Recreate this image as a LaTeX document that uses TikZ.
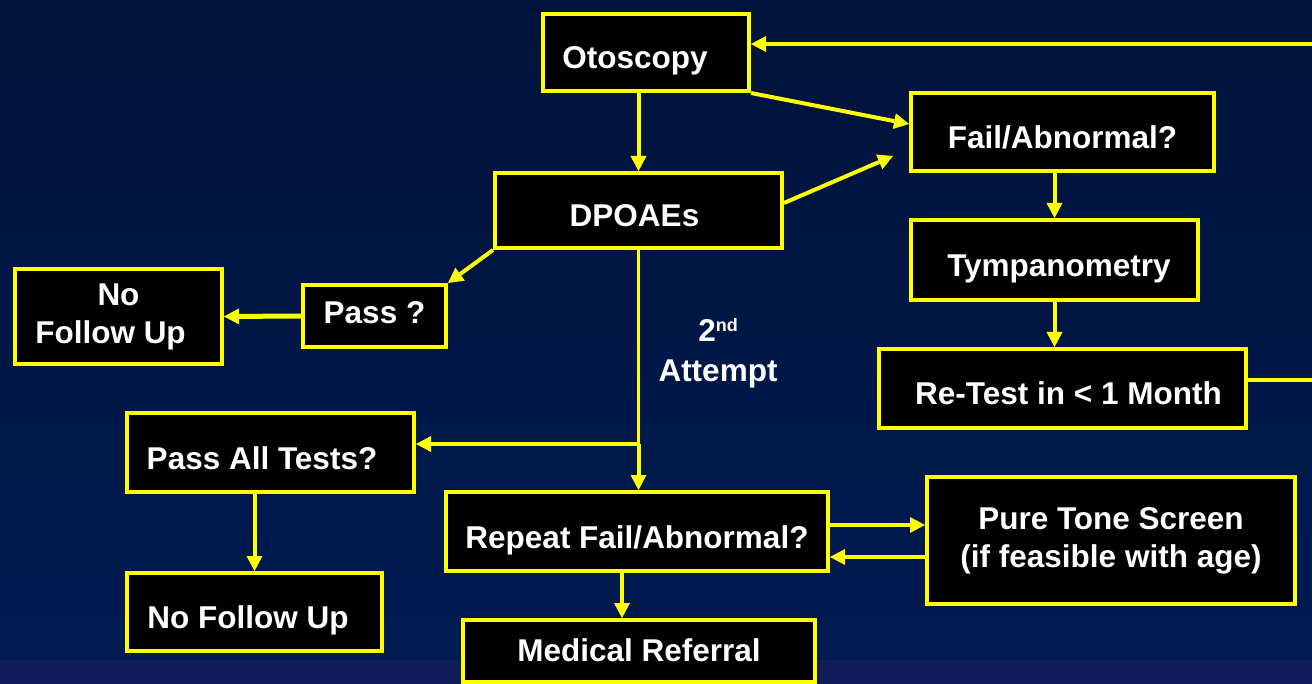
\documentclass[tikz,border=0pt]{standalone}
\usepackage{fontspec}
\setmainfont{Liberation Sans}
\usetikzlibrary{arrows.meta,calc}
\definecolor{bgtop}{HTML}{00133A}
\definecolor{bgbot}{HTML}{001B52}
\definecolor{bgband}{HTML}{0F1D5A}
\definecolor{ylw}{HTML}{FFFF00}
\begin{document}
\begin{tikzpicture}[x=1pt,y=-1pt,
  boxbase/.style={draw=ylw, line width=4pt, fill=black, text=white,
    font=\fontsize{31.5}{38}\selectfont\bfseries, inner sep=0pt, align=center},
  box/.style={boxbase, text height=33pt, text depth=0pt},
  tip/.style={-{Triangle[length=15pt,width=16pt,line width=0pt]}},
  conn/.style={draw=ylw, line width=4pt, tip},
  thinline/.style={draw=ylw, line width=3.6pt},
  lbl/.style={text=white, font=\fontsize{31.5}{40}\selectfont\bfseries, inner sep=0pt, align=center}
]
\useasboundingbox (0,0) rectangle (1312,684);
\fill[top color=bgtop, bottom color=bgbot] (0,0) rectangle (1312,660);
\fill[bgband] (0,660) rectangle (1312,684);
\clip (0,0) rectangle (1312,684);

% boxes
\node[box, minimum width=206pt, minimum height=77pt] (oto) at (646,52.5) {Otoscopy\hspace*{22pt}};
\node[box, minimum width=287pt, minimum height=75pt] (dpo) at (638.5,210.5) {DPOAEs\hspace*{8pt}};
\node[box, minimum width=303pt, minimum height=78pt] (fail) at (1062.5,132) {Fail/Abnormal?};
\node[box, minimum width=287pt, minimum height=80pt] (tymp) at (1054.5,260) {\hspace*{9pt}Tympanometry};
\node[box, minimum width=367pt, minimum height=79pt] (rt) at (1062.5,388.5) {\hspace*{12pt}Re-Test in < 1 Month};
\node[box, minimum width=143pt, minimum height=62pt, text height=22pt, text depth=6pt] (pass) at (374.5,316) {Pass ?};
\node[boxbase, minimum width=207pt, minimum height=95pt] (nf1) at (118.5,316.5) {No\\Follow Up\hspace*{16pt}};
\node[box, minimum width=287pt, minimum height=79pt] (pall) at (270.5,452.5) {Pass All Tests?\hspace*{17pt}};
\node[box, minimum width=255pt, minimum height=78pt] (nf2) at (254.5,612) {No Follow Up\hspace*{13pt}};
\node[box, minimum width=382pt, minimum height=79pt] (rep) at (637,531.5) {Repeat Fail/Abnormal?};
\node[box, minimum width=352pt, minimum height=62pt, text height=22pt, text depth=2pt] (med) at (639,651) {Medical Referral};
\node[boxbase, minimum width=368pt, minimum height=127pt] (pt) at (1111,540.5) {Pure Tone Screen\\(if feasible with age)};

% label
\node[lbl, anchor=north] (att) at (718,318) {2\raisebox{10pt}{\fontsize{18}{18}\selectfont nd}\\Attempt};

% connectors
\draw[conn] (dpo.north |- oto.south) -- (dpo.north);
\draw[conn] (oto.south east) -- ([yshift=8pt]fail.west);
\coordinate (dpoend) at (893,156);
\draw[conn] ([yshift=7.5pt]dpo.east) -- (dpoend);
\draw[conn] (tymp.north |- fail.south) -- (tymp.north);
\draw[conn] (tymp.south) -- (tymp.south |- rt.north);
\coordinate (lpA) at (1340,380);
\coordinate (lpB) at (1340,44);
\draw[thinline, tip] ([yshift=8.5pt]rt.east) -- (lpA) -- (lpB) -- ([yshift=8.5pt]oto.east);
\draw[conn] (dpo.south west) -- (pass.north east);
\draw[conn, line width=5pt] (pass.west) -- (nf1.east);
\coordinate (br) at ($(dpo.south |- pall.east)+(0,-8.5)$);
\draw[thinline] (dpo.south) -- (br);
\draw[conn] (br) -- (br -| pall.east);
\draw[conn] (br) -- (dpo.south |- rep.north);
\draw[conn] (pall.south -| nf2.north) -- (nf2.north);
\draw[conn] ([xshift=-17pt]med.north |- rep.south) -- ([xshift=-17pt]med.north);
\draw[conn] ([yshift=6.5pt]rep.east) -- ([yshift=6.5pt]rep.east -| pt.west);
\draw[conn] ([yshift=-16.5pt]pt.west) -- ([yshift=-16.5pt]pt.west -| rep.east);
\end{tikzpicture}
\end{document}
